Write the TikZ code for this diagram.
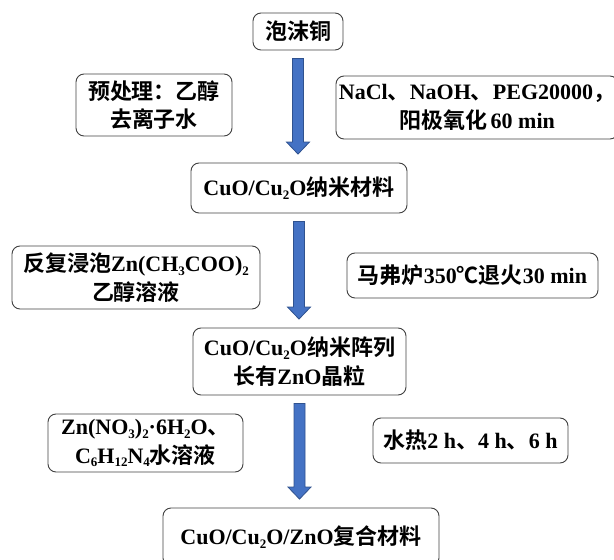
\documentclass[tikz,border=0pt]{standalone}
\usepackage{fontspec}
\setmainfont{Liberation Serif Bold}
\newfontfamily\cjk{Noto Sans CJK SC Bold}
\usetikzlibrary{calc}
\newcommand\zh[1]{{\cjk #1}}
\newcommand\sbs[1]{\raisebox{-0.35ex}{\fontsize{13}{13}\selectfont #1}}
\tikzset{
  procbox/.style={draw=black!75, line width=0.9pt, rounded corners=8pt, align=center,
    inner sep=0pt, font=\fontsize{22}{28.5}\selectfont},
  barrow/.style={fill=arrowblue, draw=arrowedge, line width=0.8pt, line join=miter}
}
\definecolor{arrowblue}{HTML}{4472C4}
\definecolor{arrowedge}{HTML}{2F528F}
\newcommand\blockarrow[2]{%
  \draw[barrow] let \p1=(#1.south), \p2=(#2.north) in
    (\x1-5.5pt,\y1-8pt) -- (\x1+5.5pt,\y1-8pt) -- (\x1+5.5pt,\y2+20.5pt) --
    (\x1+11.5pt,\y2+20.5pt) -- (\x1,\y2+8.5pt) -- (\x1-11.5pt,\y2+20.5pt) --
    (\x1-5.5pt,\y2+20.5pt) -- cycle;}
\begin{document}
\begin{tikzpicture}[x=1pt,y=-1pt]
\useasboundingbox (0,0) rectangle (614,560);
\node[procbox, minimum width=90pt, minimum height=37pt] (A) at (298,31.5) {\zh{泡沫铜}};
\node[procbox, minimum width=156pt, minimum height=62pt] (P1) at (154,105) {\zh{预处理：乙醇}\\\zh{去离子水}};
\node[procbox, minimum width=282pt, minimum height=63pt] (R1) at (477,107.5) {NaCl\zh{、}NaOH\zh{、}PEG20000\zh{，}\\\zh{阳极氧化}\,60 min};
\node[procbox, minimum width=216pt, minimum height=50pt] (B) at (299,188) {CuO/Cu\sbs{2}O\zh{纳米材料}};
\node[procbox, minimum width=248pt, minimum height=63pt] (P2) at (136,277.5) {\zh{反复浸泡}Zn(CH\sbs{3}COO)\sbs{2}\\\zh{乙醇溶液}};
\node[procbox, minimum width=251pt, minimum height=45pt] (R2) at (472.5,275.5) {\zh{马弗炉}350\zh{℃退火}30 min};
\node[procbox, minimum width=213pt, minimum height=67pt] (C) at (299.5,361.5) {CuO/Cu\sbs{2}O\zh{纳米阵列}\\\zh{长有}ZnO\zh{晶粒}};
\node[procbox, minimum width=195pt, minimum height=58pt] (P3) at (145.5,443) {Zn(NO\sbs{3})\sbs{2}·6H\sbs{2}O\zh{、}\\C\sbs{6}H\sbs{12}N\sbs{4}\zh{水溶液}};
\node[procbox, minimum width=195pt, minimum height=45pt] (R3) at (470.5,440.5) {\zh{水热}2 h\zh{、}4 h\zh{、}6 h};
\node[procbox, minimum width=276pt, minimum height=58pt] (D) at (301,537) {CuO/Cu\sbs{2}O/ZnO\zh{复合材料}};
\blockarrow{A}{B}
\blockarrow{B}{C}
\blockarrow{C}{D}
\end{tikzpicture}
\end{document}
